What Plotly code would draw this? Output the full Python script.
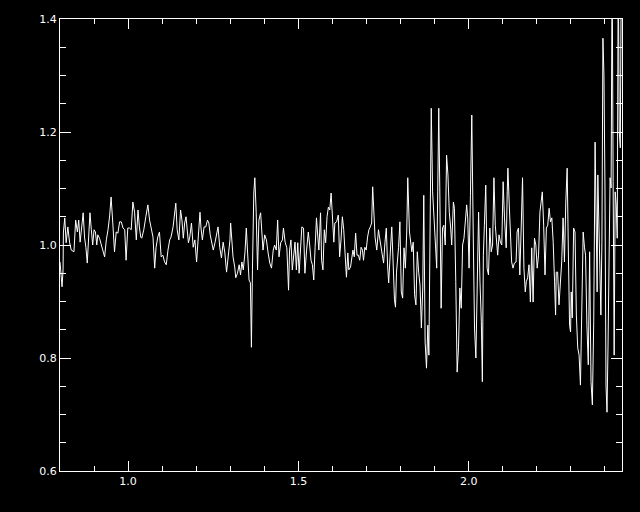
import plotly.graph_objects as go

wavelength = [
    0.800, 0.806, 0.809, 0.810, 0.814, 0.818, 0.823, 0.828, 0.833, 0.841,
    0.846, 0.851, 0.855, 0.859, 0.865, 0.868, 0.872, 0.876, 0.880, 0.884,
    0.888, 0.892, 0.896, 0.900, 0.904, 0.908, 0.911, 0.916, 0.921, 0.926,
    0.931, 0.936, 0.941, 0.946, 0.950, 0.955, 0.960, 0.965, 0.970, 0.975,
    0.980, 0.985, 0.990, 0.994, 0.999, 1.004, 1.009, 1.014, 1.019, 1.024,
    1.029, 1.033, 1.037, 1.040, 1.046, 1.052, 1.058, 1.063, 1.068, 1.073,
    1.078, 1.082, 1.087, 1.092, 1.097, 1.102, 1.107, 1.112, 1.117, 1.122,
    1.126,
    1.132, 1.140, 1.144, 1.149, 1.154, 1.158, 1.162, 1.166, 1.170, 1.173,
    1.177, 1.181, 1.186, 1.191, 1.196, 1.201, 1.205, 1.211, 1.214, 1.218,
    1.223, 1.228, 1.233, 1.237, 1.241, 1.245, 1.250, 1.255, 1.260, 1.264,
    1.269, 1.274, 1.279, 1.284, 1.289, 1.294, 1.299, 1.301, 1.304, 1.308,
    1.313, 1.316, 1.321, 1.326, 1.330, 1.334, 1.338, 1.343, 1.347, 1.351,
    1.355, 1.359, 1.362, 1.365, 1.369, 1.372, 1.376, 1.380, 1.384, 1.389,
    1.392, 1.396, 1.401, 1.406, 1.411, 1.416, 1.421, 1.426, 1.430, 1.435,
    1.439, 1.443, 1.448, 1.453,
    1.456, 1.461, 1.466, 1.469, 1.471, 1.474, 1.478, 1.482, 1.486, 1.490,
    1.494, 1.498, 1.502, 1.506, 1.510, 1.515, 1.519, 1.524, 1.529, 1.533,
    1.537, 1.541, 1.545, 1.549, 1.553, 1.557, 1.560, 1.565, 1.568, 1.572,
    1.576, 1.580, 1.584, 1.588, 1.592, 1.596, 1.600, 1.604, 1.607, 1.612,
    1.617, 1.621, 1.625, 1.629, 1.633, 1.637, 1.641, 1.645, 1.648, 1.653,
    1.656, 1.660, 1.664, 1.668, 1.672, 1.676, 1.680, 1.684, 1.688, 1.691,
    1.695, 1.699, 1.703, 1.707, 1.711, 1.715, 1.718, 1.721, 1.725, 1.730,
    1.735, 1.738, 1.742, 1.746, 1.750, 1.754, 1.758, 1.762, 1.765, 1.769,
    1.774, 1.777, 1.782, 1.785,
    1.788, 1.794, 1.798, 1.802, 1.806, 1.810, 1.814, 1.818, 1.821, 1.826,
    1.829, 1.833, 1.837, 1.841, 1.845, 1.849, 1.853, 1.857, 1.861, 1.865,
    1.868, 1.872, 1.876, 1.880, 1.883, 1.886, 1.890, 1.894, 1.898, 1.902,
    1.906, 1.909, 1.912, 1.915, 1.919, 1.923, 1.927, 1.931, 1.935, 1.939,
    1.943, 1.947, 1.950, 1.955, 1.958, 1.962, 1.966, 1.970, 1.974, 1.978,
    1.982, 1.986, 1.990, 1.994, 1.997, 2.001, 2.005, 2.009, 2.013, 2.017,
    2.021, 2.025, 2.029, 2.033, 2.037, 2.040, 2.043, 2.046, 2.050, 2.054,
    2.058, 2.062, 2.066, 2.070, 2.074, 2.078, 2.082, 2.085, 2.089, 2.093,
    2.097, 2.101, 2.105,
    2.110, 2.113, 2.115, 2.119, 2.123, 2.126, 2.130, 2.134, 2.139, 2.142,
    2.146, 2.150, 2.154, 2.158, 2.162, 2.166, 2.169, 2.173, 2.177, 2.181,
    2.185, 2.189, 2.193, 2.197, 2.201, 2.205, 2.209, 2.213, 2.216, 2.220,
    2.224, 2.228, 2.232, 2.236, 2.240, 2.244, 2.248, 2.252, 2.255, 2.257,
    2.261, 2.265, 2.269, 2.273, 2.277, 2.281, 2.285, 2.289, 2.293, 2.296,
    2.299, 2.301, 2.304, 2.308, 2.312, 2.316, 2.320, 2.324, 2.328, 2.332,
    2.336, 2.340, 2.343, 2.347, 2.351, 2.355, 2.359, 2.363, 2.367, 2.371,
    2.374, 2.377, 2.379, 2.381, 2.385, 2.388, 2.391, 2.394, 2.397, 2.400,
    2.403, 2.406, 2.409, 2.412, 2.415, 2.418, 2.421, 2.424, 2.427, 2.430,
    2.433, 2.436, 2.439, 2.442, 2.445, 2.448,
]

flux = [
    0.970, 0.926, 0.956, 1.023, 1.048, 1.004, 1.032, 1.005, 0.991, 0.988,
    1.044, 1.023, 1.044, 1.005, 1.039, 1.057, 1.014, 0.996, 0.968, 1.027,
    1.057, 1.027, 1.000, 1.027, 1.023, 1.000, 1.018, 1.012, 1.000, 0.988,
    0.979, 1.009, 1.027, 1.053, 1.085, 1.039, 0.988, 1.023, 1.021, 1.041,
    1.041, 1.030, 1.027, 0.973, 1.030, 1.030, 1.027, 1.076, 1.058, 1.009,
    1.062, 1.032, 1.014, 1.012, 1.027, 1.050, 1.071, 1.044, 1.027, 1.014,
    0.959, 0.996, 1.014, 1.023, 0.979, 0.982, 0.970, 0.965, 0.991, 1.009,
    1.014,
    1.032, 1.074, 1.027, 1.009, 1.062, 1.044, 1.012, 1.039, 1.050, 1.030,
    1.004, 1.014, 1.039, 0.996, 1.009, 0.970, 1.009, 1.058, 1.030, 1.009,
    1.032, 1.032, 1.044, 1.039, 1.018, 1.005, 0.991, 1.004, 1.021, 1.032,
    0.996, 0.977, 1.005, 0.986, 0.952, 0.979, 1.009, 1.039, 1.014, 0.979,
    0.961, 0.942, 0.950, 0.965, 0.947, 0.970, 0.956, 0.986, 1.030, 0.973,
    0.938, 0.933, 0.819, 0.956, 1.092, 1.119, 1.057, 0.956, 1.044, 1.057,
    1.021, 0.991, 1.018, 1.009, 0.986, 0.968, 0.959, 0.991, 1.000, 0.991,
    1.044, 0.979, 1.004, 1.009,
    1.030, 1.005, 0.995, 0.943, 0.920, 0.991, 1.009, 0.956, 0.986, 1.005,
    0.956, 1.004, 0.950, 0.991, 1.032, 1.030, 0.950, 0.991, 1.023, 1.000,
    0.973, 0.965, 0.938, 0.996, 1.048, 1.014, 0.991, 1.057, 0.973, 0.956,
    1.027, 1.004, 1.050, 1.067, 1.062, 1.092, 1.039, 1.005, 1.039, 1.041,
    1.053, 0.979, 1.009, 1.050, 1.027, 0.991, 0.943, 0.986, 0.956, 0.961,
    0.973, 0.991, 0.979, 1.021, 0.982, 0.982, 0.973, 0.996, 0.991, 0.973,
    0.996, 0.991, 1.014, 1.027, 1.032, 1.039, 1.103, 1.067, 1.014, 0.991,
    1.027, 1.014, 0.996, 0.979, 0.968, 1.004, 1.030, 0.961, 0.933, 0.979,
    1.032, 0.986, 0.903, 0.890,
    0.952, 0.996, 1.041, 0.917, 0.906, 0.995, 0.959, 1.023, 1.119, 1.023,
    1.005, 0.988, 1.005, 0.912, 0.894, 0.988, 0.952, 0.929, 0.853, 0.924,
    1.088, 0.828, 0.782, 0.858, 0.805, 0.959, 1.242, 1.094, 1.048, 1.000,
    0.959, 1.094, 1.242, 1.101, 0.888, 1.030, 1.035, 1.000, 1.159, 1.124,
    1.058, 1.030, 1.000, 1.076, 1.065, 0.935, 0.775, 0.818, 0.924, 0.888,
    1.000, 1.012, 1.041, 1.071, 1.048, 0.959, 1.088, 1.230, 1.030, 0.853,
    0.800, 0.977, 1.058, 0.935, 0.864, 0.758, 0.982, 1.035, 1.106, 0.959,
    0.947, 1.030, 0.988, 1.000, 1.119, 1.035, 0.995, 0.982, 1.018, 1.005,
    1.000, 1.112, 1.048,
    0.995, 1.094, 1.136, 1.071, 1.018, 0.970, 0.959, 0.968, 0.970, 1.023,
    1.030, 0.947, 1.030, 1.119, 0.959, 0.917, 0.935, 0.942, 0.965, 0.899,
    0.995, 0.899, 1.012, 1.000, 0.959, 0.982, 1.058, 1.088, 1.094, 1.035,
    0.947, 1.030, 1.035, 1.065, 1.041, 1.048, 1.005, 0.935, 0.876, 0.952,
    0.952, 0.894, 0.935, 0.970, 1.048, 0.970, 1.076, 1.136, 0.970, 0.858,
    0.846, 0.917, 0.871, 1.030, 1.023, 0.876, 0.818, 0.805, 0.752, 0.899,
    1.023, 0.995, 0.982, 0.858, 0.788, 0.988, 0.758, 0.717, 0.864, 1.182,
    1.000, 0.917, 1.124, 1.053, 0.959, 0.876, 1.005, 1.366, 1.301, 1.101,
    0.752, 0.704, 0.823, 0.935, 1.119, 1.101, 1.500, 1.112, 0.805, 1.094,
    1.071, 1.012, 1.500, 1.200, 1.172, 1.500,
]

x_ticks = [1.0, 1.5, 2.0]
x_tick_labels = ["1.0", "1.5", "2.0"]
y_ticks = [0.6, 0.8, 1.0, 1.2, 1.4]
y_tick_labels = ["0.6", "0.8", "1.0", "1.2", "1.4"]

fig = go.Figure()
fig.add_trace(go.Scatter(
    x=wavelength, y=flux, mode="lines",
    line=dict(color="white", width=1),
    showlegend=False, hoverinfo="skip",
))

axis_common = dict(
    showgrid=False, zeroline=False,
    showline=True, linecolor="white", linewidth=1,
    mirror="allticks", ticks="inside", tickcolor="white", tickwidth=1,
    tickfont=dict(family="DejaVu Sans", size=11, color="white"),
)

fig.update_xaxes(
    range=[0.8, 2.45],
    tickvals=x_ticks, ticktext=x_tick_labels, ticklen=10,
    minor=dict(ticks="inside", ticklen=5, tickcolor="white", dtick=0.1, tick0=0.8, showgrid=False),
    **axis_common,
)
fig.update_yaxes(
    range=[0.6, 1.4],
    tickvals=y_ticks, ticktext=y_tick_labels, ticklen=11,
    minor=dict(ticks="inside", ticklen=6, tickcolor="white", dtick=0.05, tick0=0.6, showgrid=False),
    **axis_common,
)

fig.update_layout(
    width=640, height=512,
    margin=dict(l=60, r=18, t=19, b=41),
    paper_bgcolor="black", plot_bgcolor="black",
)

fig.write_html(
    "out.html",
    config={"displayModeBar": False},
    post_script="document.body.style.margin='0';document.body.style.background='black';document.body.style.overflow='hidden';",
)
